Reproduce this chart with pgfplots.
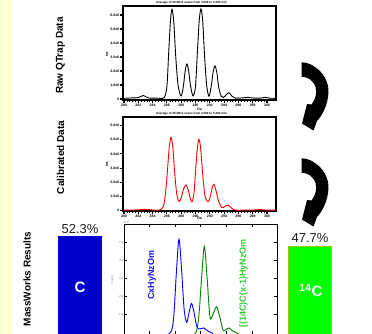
\documentclass[border=0pt]{standalone}
\usepackage{pgfplots}
\pgfplotsset{compat=1.18}
\usepackage{fontspec}
\setmainfont{Liberation Sans}
\definecolor{strip}{RGB}{255,255,212}
\definecolor{boxblue}{RGB}{0,0,204}
\definecolor{boxgreen}{RGB}{0,255,0}
\definecolor{boxgreenedge}{RGB}{150,200,0}
\definecolor{txtgreen}{RGB}{51,204,51}
\definecolor{linegreen}{RGB}{0,128,0}
\definecolor{txtblue}{RGB}{20,20,230}
\definecolor{pctgray}{RGB}{30,30,30}
\newcommand{\fs}[1]{\fontsize{#1}{#1}\selectfont}

\pgfplotsset{
  toppanel/.style={
    scale only axis, width=153pt, height=94pt, anchor=south west,
    xmin=-0.07, xmax=10.63,
    xtick={0,...,10},
    xticklabels={280,282,284,286,288,290,292,294,296,298,300},
    ytick={0,...,6},
    yticklabels={0,1.0e6,2.0e6,3.0e6,4.0e6,5.0e6,6.0e6},
    minor x tick num=4,
    tick align=outside, xtick pos=lower, ytick pos=left,
    axis line style={line width=1.1pt},
    major tick style={black, line width=1.1pt},
    minor tick style={black, line width=0.5pt},
    major tick length=3pt, minor tick length=1.6pt,
    xticklabel style={font=\fs{3.5}\bfseries, inner sep=0.4pt},
    yticklabel style={font=\fs{3.5}\bfseries, inner sep=0.6pt},
    /pgf/number format/assume math mode=true,
    clip=true,
  }
}

\begin{document}
\begin{tikzpicture}[x=1pt, y=1pt]
\useasboundingbox (0,0) rectangle (372,334);
\fill[white] (0,0) rectangle (372,334);
\fill[strip] (0,0) rectangle (12,334);

% ---------- Panel 1: raw data ----------
\begin{axis}[toppanel, at={(123pt,234pt)}, ymin=-0.07, ymax=6.64]
\addplot[black, line width=0.9pt, smooth, tension=0.5] coordinates {
(0,0.05) (0.6,0.08) (1.0,0.1) (1.35,0.25) (1.7,0.08) (2.3,0.06) (2.8,0.1)
(3.0,0.9) (3.12,3.2) (3.25,5.6) (3.36,6.4) (3.48,5.5) (3.62,3.0) (3.78,1.0)
(3.99,0.22) (4.15,0.9) (4.28,2.0) (4.4,2.5) (4.52,2.0) (4.66,0.9) (4.83,0.22)
(5.0,0.9) (5.13,3.3) (5.26,5.6) (5.38,6.43) (5.5,5.6) (5.64,3.0) (5.78,1.0)
(5.94,0.2) (6.1,0.9) (6.23,1.9) (6.36,2.36) (6.49,1.9) (6.63,0.8) (6.8,0.2)
(6.95,0.1) (7.15,0.3) (7.34,0.45) (7.55,0.2) (7.8,0.06) (8.3,0.08) (8.7,0.12)
(9.0,0.07) (9.5,0.06) (9.9,0.12) (10.2,0.06) (10.6,0.05)
};
\end{axis}

% ---------- Panel 2: calibrated data ----------
\begin{axis}[toppanel, at={(123pt,123pt)}, ymin=-0.02, ymax=6.6]
\addplot[red, line width=0.9pt, smooth, tension=0.5] coordinates {
(0,0.04) (1.0,0.06) (1.5,0.1) (2.0,0.05) (2.5,0.05) (2.75,0.3) (2.9,1.2)
(3.05,3.0) (3.17,4.5) (3.29,5.17) (3.41,4.5) (3.55,2.6) (3.7,1.1) (3.85,0.65)
(4.0,0.9) (4.17,1.55) (4.34,1.81) (4.5,1.45) (4.64,0.85) (4.76,0.63)
(4.9,1.3) (5.02,3.0) (5.13,4.4) (5.24,5.03) (5.36,4.4) (5.5,2.6) (5.66,1.05)
(5.87,0.63) (6.02,0.95) (6.15,1.55) (6.29,1.86) (6.44,1.4) (6.6,0.7)
(6.85,0.21) (7.05,0.3) (7.27,0.4) (7.5,0.2) (7.8,0.04) (8.5,0.05) (9.0,0.04)
(9.5,0.08) (10.0,0.04) (10.6,0.04)
};
\end{axis}

% ---------- Panel 3: MassWorks results ----------
\begin{axis}[scale only axis, width=153pt, height=110pt, at={(124pt,0pt)}, anchor=south west,
  xmin=0, xmax=5.98, ymin=-0.065, ymax=6.01,
  xtick={0,...,5}, xticklabels={},
  ytick={1,...,5}, yticklabels={1.0,2.0,3.0,4.0,5.0},
  tick align=inside, xtick pos=both, ytick pos=both,
  axis line style={line width=0.9pt},
  major tick style={black, line width=0.6pt}, major tick length=3pt,
  yticklabel style={font=\fs{3}, text=gray, inner sep=0.6pt},
  /pgf/number format/assume math mode=true,
  clip=true]
\addplot[blue, line width=0.9pt, smooth, tension=0.5] coordinates {
(1.6,-0.2) (1.85,0.1) (1.95,1.0) (2.05,3.4) (2.15,5.17) (2.25,3.5) (2.35,1.3)
(2.45,0.58) (2.54,1.1) (2.64,1.62) (2.74,1.1) (2.85,0.32) (2.98,0.22)
(3.12,0.27) (3.25,0.12) (3.4,0.02) (3.6,-0.2)
};
\addplot[linegreen, line width=0.9pt, smooth, tension=0.5] coordinates {
(2.6,-0.2) (2.82,0.05) (2.93,1.0) (3.03,3.0) (3.14,4.77) (3.25,3.0)
(3.32,1.5) (3.38,0.76) (3.5,1.1) (3.62,1.44) (3.74,0.9) (3.88,0.12)
(4.0,0.2) (4.1,0.27) (4.25,0.1) (4.4,0.0) (4.6,-0.2)
};
\end{axis}

% ---------- titles and small labels ----------
\node[font=\fs{3}\bfseries, inner sep=0pt] at (191.5,331) {Average of 45 MCA scans from 4.502 to 5.203 min};
\node[font=\fs{3}\bfseries, inner sep=0pt] at (191.5,220.7) {Average of 45 MCA scans from 4.502 to 5.203 min};
\node[font=\fs{3.5}\bfseries, inner sep=0pt] at (199.5,224.5) {Da};
\node[font=\fs{3.5}\bfseries, inner sep=0pt] at (199.5,115.5) {Da};
\node[font=\fs{3.5}\bfseries, inner sep=0pt, rotate=90] at (107,280) {Int.};
\node[font=\fs{3.5}\bfseries, inner sep=0pt, rotate=90] at (107,170) {Int.};
\node[font=\fs{3}, text=gray, inner sep=0pt, rotate=90] at (112,54) {Count};
\node[font=\fs{3}, text=gray, inner sep=0pt] at (127,112.5) {x10\textsuperscript{5}};

% ---------- row labels ----------
\node[rotate=90, font=\bfseries\fs{10}] at (60.5,278.5) {Raw QTrap Data};
\node[rotate=90, font=\bfseries\fs{10}] at (60.5,176.5) {Calibrated Data};
\node[rotate=90, font=\bfseries\fs{10}] at (27,55) {MassWorks Results};

% ---------- formula labels ----------
\node[rotate=90, font=\bfseries\fs{9}, text=txtblue] at (152,59) {CxHyNzOm};
\node[rotate=90, font=\bfseries\fs{9}, text=txtgreen] at (243.5,50.5) {[(14C)C(x-1)HyNzOm};

% ---------- result boxes ----------
\fill[boxblue] (58,-2) rectangle (101.7,98);
\node[font=\fs{13}, text=pctgray] at (80,104.5) {52.3\%};
\node[font=\bfseries\fs{15}, text=white] at (80,47) {C};
\filldraw[fill=boxgreen, draw=boxgreenedge, line width=0.5pt] (288.3,-2) rectangle (331.7,88);
\node[font=\fs{13}, text=pctgray] at (310,96) {47.7\%};
\node[font=\bfseries\fs{15}, text=white] at (311,43.5) {\textsuperscript{14}C};

% ---------- curved arrows ----------
\begin{scope}[shift={(0,334)}, yscale=-1]
\foreach \dy in {0,96} {
  \fill[black, shift={(0,\dy)}] (301.5,62.3) .. controls (313,62) and (329,75) .. (328.5,92)
    .. controls (328,105) and (322,116) .. (317,121) -- (313.5,130.5) -- (302,123.5)
    -- (307,104) -- (311.5,104.5) .. controls (316,99) and (317,92) .. (315.5,87)
    .. controls (313,80) and (308,77) .. (301.5,76.7) -- cycle;
}
\end{scope}
\end{tikzpicture}
\end{document}
